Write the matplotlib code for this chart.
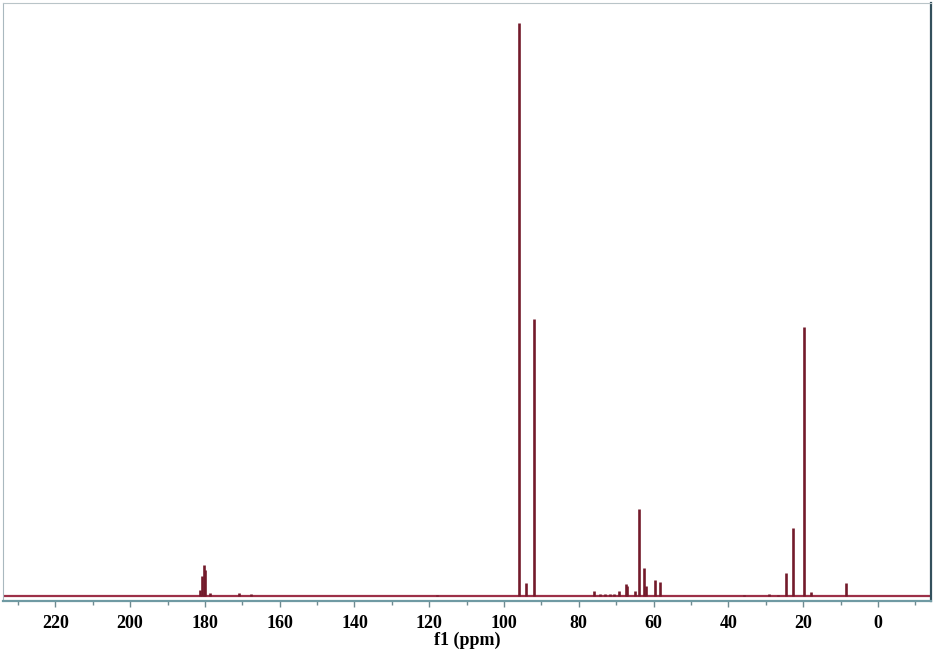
import numpy as np
import matplotlib.pyplot as plt

# 13C NMR peak list: chemical shift (ppm) and relative intensity
shift = np.array([181.3, 180.7, 180.2, 179.9, 178.7, 171.0, 167.6, 117.8,
                  96.0, 94.0, 92.0,
                  75.8, 74.3, 73.0, 71.6, 70.5, 69.2, 67.4, 67.0, 65.0,
                  63.8, 62.6, 62.1, 59.7, 58.3,
                  35.7, 29.1, 26.7, 24.7, 22.8, 19.7, 17.9, 8.6])
intensity = np.array([1.2, 3.5, 5.4, 4.6, 0.6, 0.6, 0.4, 0.3,
                      100.0, 2.4, 48.3,
                      1.0, 0.35, 0.35, 0.4, 0.5, 1.0, 2.2, 1.8, 1.0,
                      15.3, 4.9, 1.8, 2.8, 2.6,
                      0.2, 0.4, 0.3, 4.0, 12.0, 47.0, 0.7, 2.4])

major_ticks = np.arange(0, 221, 20)
minor_ticks = np.arange(-10, 231, 10)

color = '#731a2b'
serif = ['Liberation Serif', 'DejaVu Serif']

fig = plt.figure(figsize=(9.35, 6.55), dpi=100)
ax = fig.add_axes([3 / 935, 54 / 655, 928 / 935, 598 / 655])

ax.axhline(0, color='#9c3048', lw=1.6, zorder=2)
ax.vlines(shift, 0, intensity, color=color, lw=1.9, zorder=3)

ax.set_xlim(234, -14.2)
ax.set_ylim(-0.8, 103.5)

ax.set_xticks(major_ticks)
ax.set_xticks(minor_ticks, minor=True)
ax.set_xticklabels([str(t) for t in major_ticks], fontfamily=serif,
                   fontweight='bold', fontsize=13)
ax.tick_params(axis='x', which='major', direction='out', length=4,
               width=1, color='#6f8a90', pad=6)
ax.tick_params(axis='x', which='minor', direction='out', length=3,
               width=1, color='#6f8a90')
ax.set_yticks([])
ax.set_xlabel('f1 (ppm)', fontfamily=serif, fontweight='bold',
              fontsize=13, labelpad=0)

ax.spines['left'].set_color('#a9b8bf')
ax.spines['top'].set_color('#b9c4c8')
ax.spines['right'].set_color('#33505c')
ax.spines['right'].set_linewidth(1.6)
ax.spines['bottom'].set_color('#6f9aa3')
ax.spines['bottom'].set_linewidth(1.6)

fig.savefig('out.png', dpi=100)
